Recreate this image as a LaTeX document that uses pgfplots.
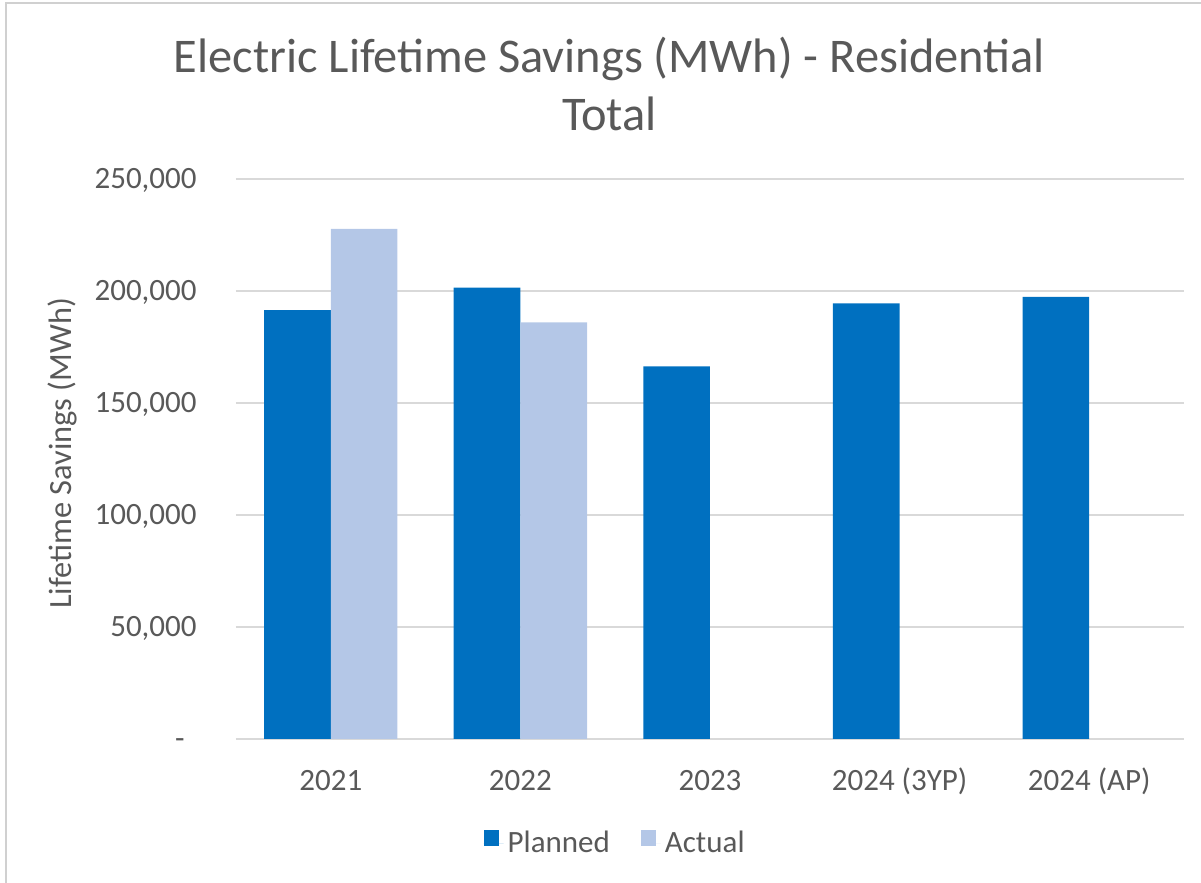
\documentclass[border=0pt]{standalone}
\usepackage{fontspec}
\setmainfont{Carlito}
\usepackage{pgfplots}
\pgfplotsset{compat=1.18}
\definecolor{planned}{HTML}{0070C0}
\definecolor{actual}{HTML}{B4C7E7}
\definecolor{txt}{HTML}{595959}
\definecolor{gridc}{HTML}{D9D9D9}
\definecolor{framec}{HTML}{D0D0D0}
\begin{document}
\begin{tikzpicture}
\begin{axis}[
  at={(0,0)}, anchor=south west,
  scale only axis, width=474pt, height=280pt,
  ybar=0pt, bar width=33.35pt,
  xmin=-0.5, xmax=4.5, ymin=0, ymax=250000,
  xtick={0,1,2,3,4},
  xticklabels={2021,2022,2023,2024 (3YP),2024 (AP)},
  ytick={0,50000,100000,150000,200000,250000},
  yticklabels={{-\kern6pt},{50,000},{100,000},{150,000},{200,000},{250,000}},
  scaled y ticks=false,
  axis line style={draw=none},
  major tick length=0pt,
  ymajorgrids, grid style={draw=gridc, line width=0.75pt},
  tick label style={font=\fontsize{15.5}{18}\selectfont, text=txt, inner sep=0pt},
  xticklabel style={anchor=base, yshift=-26pt},
  yticklabel style={anchor=base east, xshift=-19.5pt, yshift=-5pt},
  title={Electric Lifetime Savings (MWh) - Residential\\Total},
  title style={at={(axis description cs:0.394,1.0643)}, anchor=base,
               align=center, font=\fontsize{24.2}{29}\selectfont, text=txt},
  ylabel={Lifetime Savings (MWh)},
  every axis y label/.style={at={(axis description cs:-0.1733,0.5098)},
               rotate=90, anchor=base, font=\fontsize{16.2}{19}\selectfont, text=txt},
  legend columns=-1,
  legend image code/.code={\path (0pt,0pt) -- (10pt,0pt);
                           \fill[#1,draw=none] (0pt,-1.5pt) rectangle (7.5pt,6.5pt);},
  legend style={at={(rel axis cs:0.401,-0.186)}, anchor=center,
                draw=none, fill=none, font=\fontsize{15.5}{18}\selectfont, text=txt,
                /tikz/every even column/.append style={column sep=13.5pt}},
]
\addplot[fill=planned, draw=none] coordinates
  {(0,191500) (1,201500) (2,166400) (3,194500) (4,197400)};
\addplot[fill=actual, draw=none] coordinates
  {(0,227700) (1,186000)};
\legend{Planned, Actual}
\end{axis}
\draw[framec, line width=1pt] (-114.75pt,-72pt) -- (-114.75pt,368pt) -- (482.5pt,368pt);
\pgfresetboundingbox
\useasboundingbox (-118pt,-72pt) rectangle (482.5pt,369.5pt);
\end{tikzpicture}
\end{document}
